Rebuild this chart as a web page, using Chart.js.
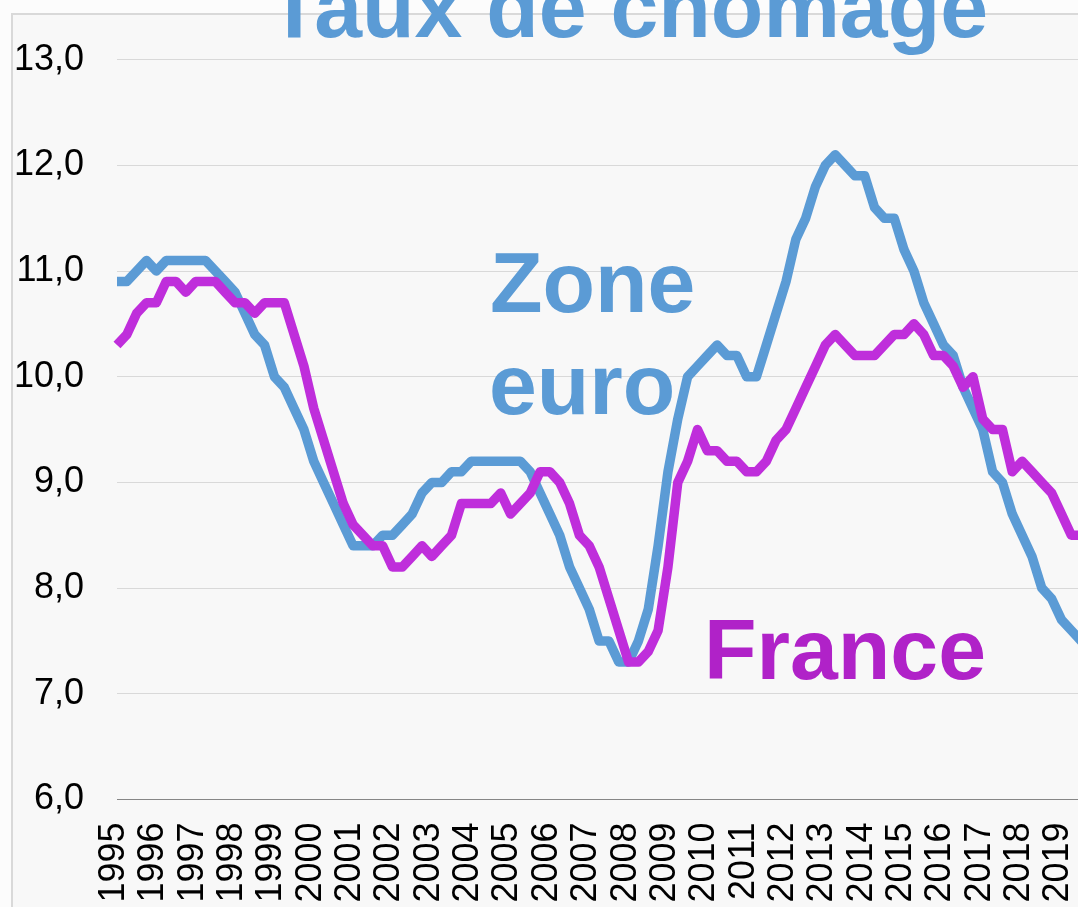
<!DOCTYPE html>
<html lang="fr">
<head>
<meta charset="utf-8">
<title>Taux de chômage</title>
<script src="https://cdn.jsdelivr.net/npm/chart.js@4.4.1/dist/chart.umd.min.js"></script>
<style>
  html, body { margin: 0; padding: 0; width: 1078px; height: 907px; overflow: hidden; background: #fcfcfc; }
  #frame { position: absolute; left: 11px; top: 13px; width: 1200px; height: 1000px; border: 2px solid #d9d9d9; background: #f8f8f8; }
  #wrap { position: absolute; left: 0; top: 0; width: 1100px; height: 907px; }
</style>
</head>
<body>
<div id="frame"></div>
<div id="wrap"><canvas id="chart"></canvas></div>
<script>
// quarterly data, 1995 T1 .. 2019 T4
const years = [1995, 1996, 1997, 1998, 1999, 2000, 2001, 2002, 2003, 2004, 2005, 2006,
  2007, 2008, 2009, 2010, 2011, 2012, 2013, 2014, 2015, 2016, 2017, 2018, 2019];

const zoneEuro = [
  10.9, 10.9, 11.0, 11.1, 11.0, 11.1, 11.1, 11.1, 11.1, 11.1,
  11.0, 10.9, 10.8, 10.6, 10.4, 10.3, 10.0, 9.9, 9.7, 9.5,
  9.2, 9.0, 8.8, 8.6, 8.4, 8.4, 8.4, 8.5, 8.5, 8.6,
  8.7, 8.9, 9.0, 9.0, 9.1, 9.1, 9.2, 9.2, 9.2, 9.2,
  9.2, 9.2, 9.1, 8.9, 8.7, 8.5, 8.2, 8.0, 7.8, 7.5,
  7.5, 7.3, 7.3, 7.5, 7.8, 8.4, 9.1, 9.6, 10.0, 10.1,
  10.2, 10.3, 10.2, 10.2, 10.0, 10.0, 10.3, 10.6, 10.9, 11.3,
  11.5, 11.8, 12.0, 12.1, 12.0, 11.9, 11.9, 11.6, 11.5, 11.5,
  11.2, 11.0, 10.7, 10.5, 10.3, 10.2, 9.9, 9.7, 9.5, 9.1,
  9.0, 8.7, 8.5, 8.3, 8.0, 7.9, 7.7, 7.6, 7.5, 7.4
];

const france = [
  10.3, 10.4, 10.6, 10.7, 10.7, 10.9, 10.9, 10.8, 10.9, 10.9,
  10.9, 10.8, 10.7, 10.7, 10.6, 10.7, 10.7, 10.7, 10.4, 10.1,
  9.7, 9.4, 9.1, 8.8, 8.6, 8.5, 8.4, 8.4, 8.2, 8.2,
  8.3, 8.4, 8.3, 8.4, 8.5, 8.8, 8.8, 8.8, 8.8, 8.9,
  8.7, 8.8, 8.9, 9.1, 9.1, 9.0, 8.8, 8.5, 8.4, 8.2,
  7.9, 7.6, 7.3, 7.3, 7.4, 7.6, 8.2, 9.0, 9.2, 9.5,
  9.3, 9.3, 9.2, 9.2, 9.1, 9.1, 9.2, 9.4, 9.5, 9.7,
  9.9, 10.1, 10.3, 10.4, 10.3, 10.2, 10.2, 10.2, 10.3, 10.4,
  10.4, 10.5, 10.4, 10.2, 10.2, 10.1, 9.9, 10.0, 9.6, 9.5,
  9.5, 9.1, 9.2, 9.1, 9.0, 8.9, 8.7, 8.5, 8.5, 8.4
];

const yMin = 6;
const yMax = 13;

const BLUE = '#5b9bd5';
const MAGENTA = '#bf2edb';
const MAGENTA_TEXT = '#b022c8';
const FONT = '"Liberation Sans", Arial, sans-serif';

const quarters = years.flatMap(y => [y + ' T1', y + ' T2', y + ' T3', y + ' T4']);

Chart.defaults.font.family = FONT;

// big coloured texts: title and series names
const textPlugin = {
  id: 'texts',
  afterDatasetsDraw(chart) {
    const { ctx } = chart;
    ctx.save();
    ctx.font = 'bold 86px ' + FONT;
    ctx.textAlign = 'left';
    ctx.textBaseline = 'alphabetic';
    ctx.fillStyle = BLUE;
    ctx.fillText('Taux de chômage', 268, 37);
    ctx.fillText('Zone', 490, 312);
    ctx.fillText('euro', 489, 414);
    ctx.fillStyle = MAGENTA_TEXT;
    ctx.fillText('France', 704, 679);
    ctx.restore();
  }
};

new Chart(document.getElementById('chart'), {
  type: 'line',
  data: {
    labels: quarters,
    datasets: [
      {
        label: 'France',
        data: france,
        borderColor: MAGENTA,
        borderWidth: 9.5,
        borderJoinStyle: 'round',
        pointRadius: 0,
        tension: 0,
        order: 0,
      },
      {
        label: 'Zone euro',
        data: zoneEuro,
        borderColor: BLUE,
        borderWidth: 9.5,
        borderJoinStyle: 'round',
        pointRadius: 0,
        tension: 0,
        order: 1,
      },
    ],
  },
  options: {
    responsive: true,
    maintainAspectRatio: false,
    animation: false,
    devicePixelRatio: 1,
    layout: { padding: { top: 59.6, left: 0, right: 9, bottom: 0 } },
    plugins: { legend: { display: false }, tooltip: { enabled: false } },
    scales: {
      x: {
        ticks: {
          autoSkip: false,
          minRotation: 90,
          maxRotation: 90,
          padding: 23,
          labelOffset: -3,
          color: '#000',
          font: { size: 36 },
          callback: (v, i) => (i % 4 === 0 ? String(years[i / 4]) : ''),
        },
        grid: { display: false, drawTicks: false },
        border: { display: true, color: '#868686', width: 1 },
        afterFit(s) { s.height = 107.5; s.paddingLeft = 0; s.paddingRight = 0; },
      },
      y: {
        min: yMin,
        max: yMax,
        ticks: {
          stepSize: 1,
          padding: 33,
          color: '#000',
          font: { size: 36 },
          callback: v => v.toFixed(1).replace('.', ','),
        },
        grid: {
          drawTicks: false,
          lineWidth: 1,
          color: c => (c.tick && c.tick.value === yMin ? '#868686' : '#d9d9d9'),
        },
        border: { display: false },
        afterFit(s) { s.width = 117; s.paddingTop = 0; s.paddingBottom = 0; },
      },
    },
  },
  plugins: [textPlugin],
});
</script>
</body>
</html>
